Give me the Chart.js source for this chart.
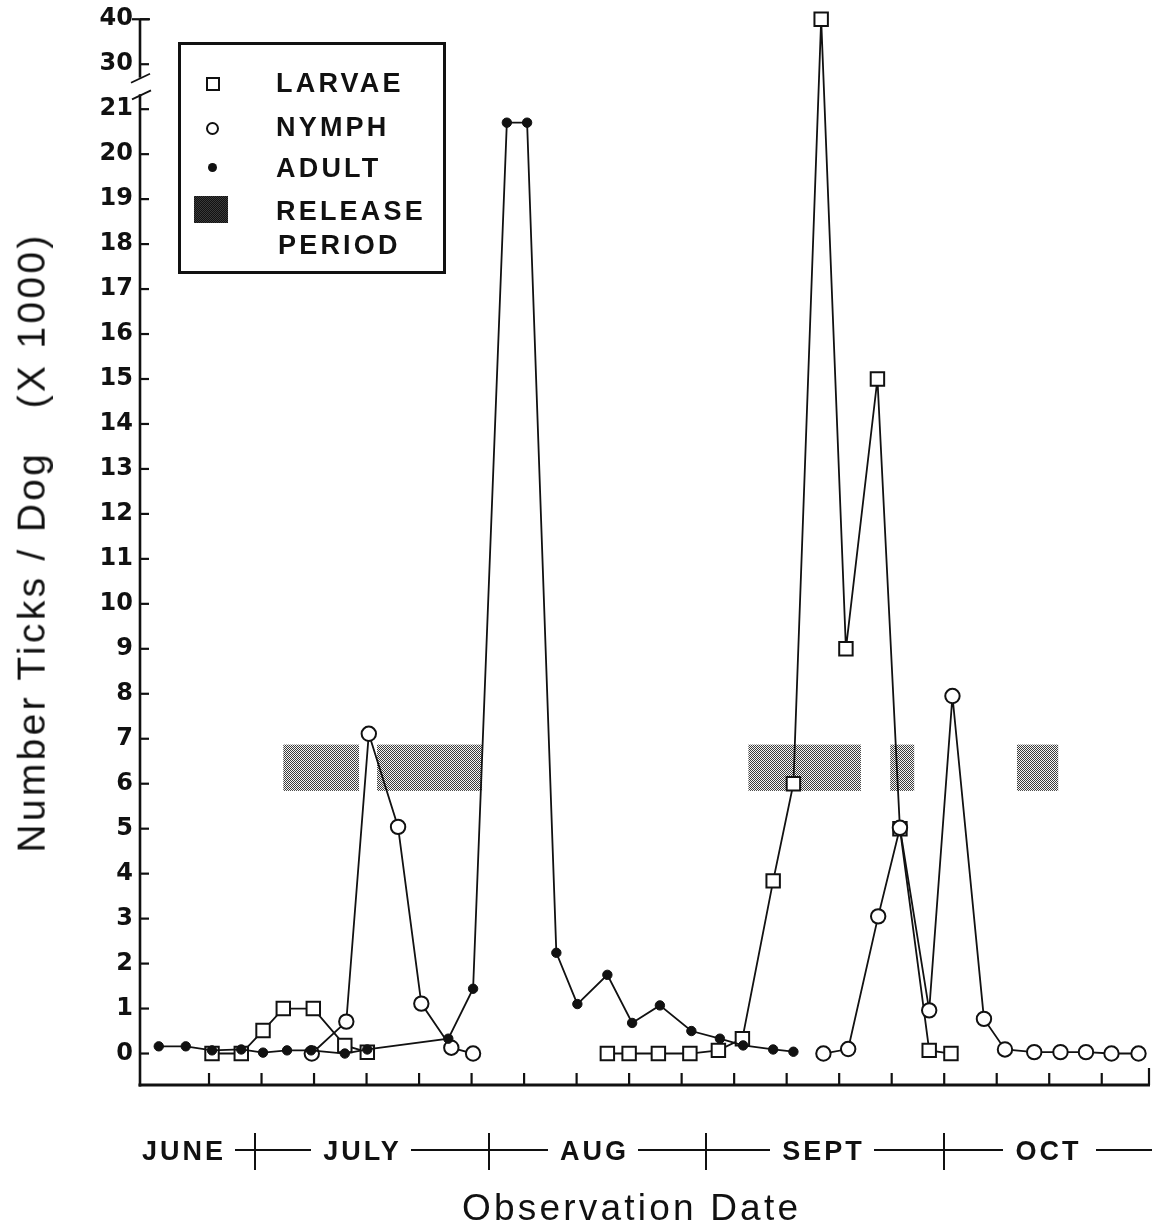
<!DOCTYPE html>
<html><head><meta charset="utf-8">
<script src="https://cdn.jsdelivr.net/npm/chart.js@4.4.0/dist/chart.umd.min.js"></script>
<style>
html,body{margin:0;padding:0;background:#fff;}
#wrap{position:relative;width:1156px;height:1229px;overflow:hidden;background:#fff;}
#c{position:absolute;left:0;top:0;}
.ov{position:absolute;color:#111;white-space:pre;line-height:1;}
.leg{font-family:"Liberation Sans",Arial,sans-serif;font-weight:bold;font-size:27px;letter-spacing:3.2px;}
.mon{position:absolute;top:1138px;color:#111;white-space:pre;line-height:1;font-family:"Liberation Sans",Arial,sans-serif;font-weight:bold;font-size:27px;letter-spacing:3px;}
.hl{position:absolute;height:2px;background:#111;}
.vl{position:absolute;width:2px;background:#111;}
#legbox{position:absolute;left:178px;top:42px;width:262px;height:226px;border:3px solid #111;}
#mSq{position:absolute;left:206px;top:77px;width:10px;height:10px;border:2px solid #111;background:#fff;}
#mCi{position:absolute;left:206px;top:122px;width:9px;height:9px;border:2px solid #111;border-radius:50%;background:#fff;}
#mDo{position:absolute;left:208px;top:163px;width:9px;height:9px;border-radius:50%;background:#111;}
#mRe{position:absolute;left:194px;top:196px;width:34px;height:27px;background:repeating-conic-gradient(#111 0 25%, #3a3a3a 0 50%) 0 0/2px 2px;}
#ytitle{font-family:"Liberation Sans",Arial,sans-serif;font-size:39px;letter-spacing:3.3px;}
#xtitle{font-family:"Liberation Sans",Arial,sans-serif;font-size:37px;letter-spacing:3.2px;top:1189px;}
</style></head><body>
<div id="wrap">
<canvas id="c" width="1156" height="1229"></canvas>
<div id="legbox"></div>
<div id="mSq"></div><div id="mCi"></div><div id="mDo"></div><div id="mRe"></div>
<div class="ov leg" style="left:276px;top:70px;">LARVAE</div>
<div class="ov leg" style="left:276px;top:114px;">NYMPH</div>
<div class="ov leg" style="left:276px;top:155px;">ADULT</div>
<div class="ov leg" style="left:276px;top:198px;">RELEASE</div>
<div class="ov leg" style="left:278px;top:232px;">PERIOD</div>
<div id="ytitle" class="ov">Number Ticks / Dog   (X 1000)</div>
<div id="xtitle" class="ov">Observation Date</div>
</div>
<script>
// ---- data (x = observation day counted from the left end of the axis) ----
const larvaeDaysJuly = [9.6, 13.5, 16.4, 19.1, 23.1, 27.3, 30.3];
const larvaeJuly     = [0.0, 0.0, 0.51, 1.0, 1.0, 0.18, 0.03];
const larvaeDaysSept = [62.3, 65.2, 69.1, 73.3, 77.1, 80.3, 84.4, 87.1, 90.8, 94.1, 98.3, 101.3, 105.2, 108.1];
const larvaeSept     = [0.0, 0.0, 0.0, 0.0, 0.07, 0.33, 3.84, 6.0, 40, 9.0, 15.0, 5.0, 0.07, 0.0];
const nymphDaysJuly  = [22.9, 27.5, 30.5, 34.4, 37.5, 41.5, 44.4];
const nymphJuly      = [0.0, 0.71, 7.11, 5.04, 1.11, 0.13, 0.0];
const nymphDaysSept  = [91.1, 94.4, 98.4, 101.3, 105.2, 108.3, 112.5, 115.3, 119.2, 122.7, 126.1, 129.5, 133.1];
const nymphSept      = [0.0, 0.1, 3.05, 5.02, 0.96, 7.95, 0.77, 0.09, 0.03, 0.03, 0.03, 0.0, 0.0];
const adultDays = [2.5, 6.1, 9.6, 13.5, 16.4, 19.6, 22.8, 27.3, 30.3, 41.1, 44.4, 48.9, 51.6, 55.5, 58.3, 62.3, 65.6, 69.3, 73.5, 77.3, 80.4, 84.4, 87.1];
const adult     = [0.16, 0.16, 0.07, 0.09, 0.02, 0.07, 0.07, 0.0, 0.09, 0.33, 1.44, 20.7, 20.7, 2.24, 1.1, 1.75, 0.68, 1.07, 0.5, 0.33, 0.18, 0.09, 0.04];
const releaseStart = [19.1, 31.6, 81.1, 100.0, 116.9];
const releaseEnd   = [29.2, 45.6, 96.1, 103.2, 122.4];
const releaseBand  = [5.84, 6.87];
const yTickValues = [0,1,2,3,4,5,6,7,8,9,10,11,12,13,14,15,16,17,18,19,20,21,30,40];
const yTickLabels = ['0','1','2','3','4','5','6','7','8','9','10','11','12','13','14','15','16','17','18','19','20','21','30','40'];
const weekTicks = [9.2, 16.2, 23.2, 30.2, 37.2, 44.2, 51.2, 58.2, 65.2, 72.2, 79.2, 86.2, 93.2, 100.2, 107.2, 114.2, 121.2, 128.2];
const xMax = 134.5;
const monthNames = ['JUNE', 'JULY', 'AUG', 'SEPT', 'OCT'];
const monthLabelDays = [5.67, 29.46, 60.4, 90.9, 120.9];
const monthStartDays = [15.33, 46.52, 75.45, 107.17];

// broken y axis: 0-21 linear, then 30 and 40 compressed above the break
function yPos(v) { return v <= 21 ? v : 22 + (v - 30) / 10; }
function pts(xs, vs) { return xs.map((d, i) => ({ x: d, y: yPos(vs[i]) })); }

const INK = '#111';
const lineBase = { borderColor: INK, borderWidth: 1.8, tension: 0, fill: false, clip: false, spanGaps: false };
const adultDs  = Object.assign({}, lineBase, { label: 'ADULT', data: pts(adultDays, adult), pointStyle: 'circle', pointRadius: 4.7, pointBackgroundColor: INK, pointBorderColor: INK, pointBorderWidth: 1 });
const nymphOpt = { pointStyle: 'circle', pointRadius: 7.2, pointBackgroundColor: '#fff', pointBorderColor: INK, pointBorderWidth: 2 };
const larvOpt  = { pointStyle: 'rect', pointRadius: 9.5, pointBackgroundColor: '#fff', pointBorderColor: INK, pointBorderWidth: 2 };

function makePattern(ctx) {
  const c = document.createElement('canvas'); c.width = 2; c.height = 2;
  const g = c.getContext('2d');
  g.fillStyle = '#f6f6f6'; g.fillRect(0, 0, 2, 2);
  g.fillStyle = '#3c3c3c'; g.fillRect(0, 0, 1, 1); g.fillRect(1, 1, 1, 1);
  return ctx.createPattern(c, 'repeat');
}
function seg(ctx, x1, y1, x2, y2) { ctx.beginPath(); ctx.moveTo(x1, y1); ctx.lineTo(x2, y2); ctx.stroke(); }

const axisPlugin = {
  id: 'paperAxes',
  beforeDatasetsDraw(chart) {
    const { ctx, scales: { x, y } } = chart;
    ctx.save();
    ctx.fillStyle = makePattern(ctx);
    const yt = y.getPixelForValue(yPos(releaseBand[1])), yb = y.getPixelForValue(yPos(releaseBand[0]));
    releaseStart.forEach((s, i) => {
      const x0 = x.getPixelForValue(s), x1 = x.getPixelForValue(releaseEnd[i]);
      ctx.fillRect(x0, yt, x1 - x0, yb - yt);
    });
    ctx.restore();
  },
  afterDraw(chart) {
    const { ctx, chartArea: a, scales: { x, y } } = chart;
    ctx.save();
    ctx.strokeStyle = INK; ctx.lineCap = 'butt';
    ctx.lineWidth = 3;
    seg(ctx, a.left - 1.5, a.bottom, a.right + 1, a.bottom);
    ctx.lineWidth = 2.2;
    weekTicks.forEach(d => { const px = x.getPixelForValue(d); seg(ctx, px, a.bottom, px, a.bottom - 12); });
    seg(ctx, a.right, a.bottom, a.right, a.bottom - 17);
    const yb1 = y.getPixelForValue(21.7), yb2 = y.getPixelForValue(21.33);
    ctx.lineWidth = 2.6;
    seg(ctx, a.left, a.bottom + 1.5, a.left, yb2);
    seg(ctx, a.left, yb1, a.left, y.getPixelForValue(yPos(40)));
    ctx.lineWidth = 1.8;
    seg(ctx, a.left - 9, yb1 + 5, a.left + 10, yb1 - 4);
    seg(ctx, a.left - 8, yb2 + 5, a.left + 11, yb2 - 4);
    ctx.lineWidth = 2.2;
    yTickValues.forEach(v => { const py = y.getPixelForValue(yPos(v)); seg(ctx, a.left, py, a.left + 9, py); });
    const ptop = y.getPixelForValue(yPos(40));
    seg(ctx, a.left - 8, ptop, a.left + 10, ptop);
    ctx.restore();
  }
};

const chart = new Chart(document.getElementById('c'), {
  type: 'line',
  data: {
    datasets: [
      adultDs,
      Object.assign({}, lineBase, nymphOpt, { label: 'NYMPH', data: pts(nymphDaysJuly, nymphJuly) }),
      Object.assign({}, lineBase, nymphOpt, { label: 'NYMPH', data: pts(nymphDaysSept, nymphSept) }),
      Object.assign({}, lineBase, larvOpt, { label: 'LARVAE', data: pts(larvaeDaysJuly, larvaeJuly) }),
      Object.assign({}, lineBase, larvOpt, { label: 'LARVAE', data: pts(larvaeDaysSept, larvaeSept) })
    ]
  },
  options: {
    responsive: false, animation: false, events: [],
    layout: { autoPadding: false, padding: { top: 17, right: 7, left: 0, bottom: 0 } },
    plugins: { legend: { display: false }, tooltip: { enabled: false }, title: { display: false } },
    scales: {
      x: {
        type: 'linear', min: 0, max: xMax,
        grid: { display: false, drawTicks: false }, border: { display: false },
        ticks: { display: false },
        afterBuildTicks(s) { s.ticks = weekTicks.map(v => ({ value: v })); },
        afterFit(s) { s.height = 144; s.paddingLeft = 0; s.paddingRight = 0; }
      },
      y: {
        type: 'linear', min: -0.7, max: 23.05,
        grid: { display: false, drawTicks: false }, border: { display: false },
        afterBuildTicks(s) { s.ticks = yTickValues.map(v => ({ value: yPos(v) })); },
        ticks: {
          autoSkip: false, padding: 7, color: INK,
          font: { family: 'DejaVu Sans', weight: 'bold', size: 24 },
          callback: (v, i) => yTickLabels[i]
        },
        afterFit(s) { s.width = 140; s.paddingTop = 0; s.paddingBottom = 0; }
      }
    }
  },
  plugins: [axisPlugin]
});

const wrap = document.getElementById('wrap');
const xs = chart.scales.x, area = chart.chartArea;
const mon = [];
monthNames.forEach((name, i) => {
  const el = document.createElement('div');
  el.className = 'mon'; el.textContent = name; wrap.appendChild(el);
  const w = el.getBoundingClientRect().width - 3;
  const cx = xs.getPixelForValue(monthLabelDays[i]);
  el.style.left = (cx - w / 2) + 'px';
  mon.push({ l: cx - w / 2, r: cx + w / 2 });
});
function hline(x1, x2) { const d = document.createElement('div'); d.className = 'hl'; d.style.left = x1 + 'px'; d.style.width = (x2 - x1) + 'px'; d.style.top = '1149px'; wrap.appendChild(d); }
for (let i = 0; i < mon.length - 1; i++) hline(mon[i].r + 12, mon[i + 1].l - 12);
hline(mon[mon.length - 1].r + 18, area.right + 3);
monthStartDays.forEach(d => {
  const v = document.createElement('div'); v.className = 'vl';
  v.style.left = (xs.getPixelForValue(d) - 1) + 'px'; v.style.top = '1133px'; v.style.height = '37px';
  wrap.appendChild(v);
});
const xt = document.getElementById('xtitle');
xt.style.left = (630 - (xt.getBoundingClientRect().width - 3.2) / 2) + 'px';
const yt = document.getElementById('ytitle');
const yw = yt.offsetWidth, yh = yt.offsetHeight;
yt.style.left = (31 - yw / 2) + 'px';
yt.style.top = (542 - yh / 2) + 'px';
yt.style.transform = 'rotate(-90deg)';
</script>
</body></html>
